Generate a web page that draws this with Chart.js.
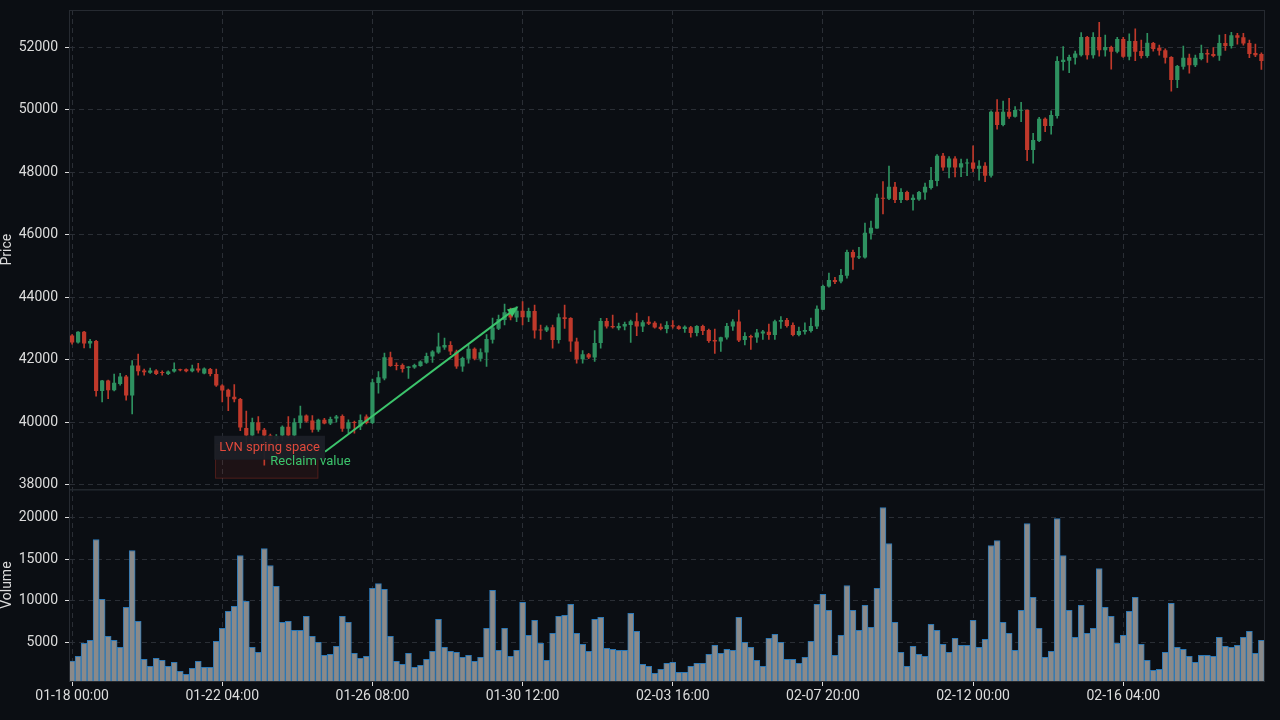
<!DOCTYPE html>
<html>
<head>
<meta charset="utf-8">
<script src="https://cdn.jsdelivr.net/npm/chart.js@4.4.1/dist/chart.umd.min.js"></script>
<style>
  html, body { margin: 0; padding: 0; background: #0b0e13; }
  #wrap { width: 1280px; height: 720px; }
</style>
</head>
<body>
<div id="wrap"><canvas id="chart" width="1280" height="720"></canvas></div>
<script>
/* ── data (4h candles) ── */
const tickLabels = ["01-18 00:00", "01-22 04:00", "01-26 08:00", "01-30 12:00",
                    "02-03 16:00", "02-07 20:00", "02-12 00:00", "02-16 04:00"];
const candlesPerTick = 25;
const priceTicks = [38000, 40000, 42000, 44000, 46000, 48000, 50000, 52000];
const volumeTicks = [5000, 10000, 15000, 20000];

const opens = [
  42770,42550,42890,42520,42600,41000,41330,41020,41220,41460,
  40850,41810,41650,41580,41650,41600,41540,41620,41680,41690,
  41630,41720,41560,41700,41540,41170,41040,40810,40740,39810,
  39570,40000,39760,39570,39450,39570,39850,39570,39970,40210,
  40050,39760,40080,39960,40120,40200,39785,40000,39860,40180,
  39970,41250,41400,42080,41830,41830,41730,41750,41800,41900,
  42100,42230,42390,42470,42260,41780,42030,42350,42030,42230,
  42640,42990,43270,43520,43350,43570,43350,43560,42960,42930,
  43040,42630,43360,43330,42580,42010,42170,42070,42530,43240,
  43080,43006,43060,43110,43230,43060,43210,43180,43050,42980,
  43100,43070,42985,43040,42850,43080,42950,42630,42580,42710,
  43060,43220,42630,42760,42710,42840,42890,42790,43210,43270,
  43110,42790,42890,42920,43060,43600,44340,44550,44500,44690,
  45450,45270,45270,46040,46200,47180,47150,47540,47110,47370,
  47110,47130,47350,47500,47720,48530,48150,48440,48150,48280,
  48310,48110,48210,47890,49940,49510,49940,49780,49970,49990,
  48710,49000,49710,49480,49800,51530,51570,51670,51750,52330,
  51750,52330,51910,52010,51860,52270,51700,52200,51880,51720,
  52140,51990,51910,51690,50950,51380,51670,51430,51630,51820,
  51790,51730,52140,52040,52390,52320,52140,51820,51790
];
const highs = [
  42800,42900,42910,42650,42620,41340,41350,41540,41560,41500,
  41970,42180,41700,41730,41680,41640,41640,41900,41700,41710,
  41830,41880,41740,41720,41700,41200,41060,41200,40760,40350,
  40130,40180,39800,39620,39600,39880,40180,40110,40510,40230,
  40210,40100,40120,40160,40220,40230,40070,40030,40230,40230,
  41380,41620,42210,42240,41900,41870,41780,41860,41960,42210,
  42290,42850,42690,42580,42310,42080,42470,42380,42350,42800,
  43330,43430,43780,43650,43700,43860,43650,43750,43110,43080,
  43110,43470,43750,43350,42690,42290,42200,42930,43320,43320,
  43430,43170,43200,43270,43490,43250,43380,43220,43150,43220,
  43250,43090,43080,43070,43090,43110,42980,42980,42720,43160,
  43280,43590,42870,42790,42970,42940,43140,43270,43380,43320,
  43180,43040,43180,43330,43720,44390,44770,44640,44890,45510,
  45510,45600,46370,46440,47300,47700,48200,47680,47480,47400,
  47280,47390,47650,48160,48570,48610,48500,48500,48420,48420,
  48850,48370,48310,49970,50330,50280,50370,50100,50240,50000,
  49250,49760,49740,49970,51700,52020,51750,51880,52470,52350,
  52470,52800,52390,52040,52320,52320,52430,52590,52230,52450,
  52160,52070,51950,51700,51420,52040,51780,51750,52070,51930,
  51990,52390,52420,52480,52450,52450,52230,52100,51820
];
const lows = [
  42500,42530,42380,42380,40830,40650,40750,41000,41180,40700,
  40260,41500,41500,41560,41520,41500,41520,41600,41640,41610,
  41610,41600,41540,41480,41140,40650,40370,40650,39730,39300,
  39400,39650,38620,39200,39300,39400,39500,39480,39810,40000,
  39680,39700,39940,39920,40000,39700,39650,39650,39760,39940,
  39950,40930,41350,41780,41670,41600,41400,41720,41780,41880,
  41910,42200,42330,42160,41720,41620,41890,41990,41950,41780,
  42530,42960,43110,43270,43220,43110,43220,42690,42650,42900,
  42370,42530,43000,42260,41890,41890,42030,41940,42370,43010,
  43010,42950,42950,42550,42770,42900,43120,43010,42950,42860,
  43010,42970,42870,42720,42760,42800,42550,42200,42260,42660,
  42940,42580,42470,42330,42550,42650,42650,42650,43000,43040,
  42760,42760,42820,42880,42990,43600,44320,44430,44460,44610,
  44890,45230,45250,45860,46200,46670,47120,47030,47030,47110,
  46790,47100,47130,47460,47560,48060,47820,47850,47860,47890,
  48020,47750,47700,47840,49380,49480,49720,49760,49620,48370,
  48290,48980,49300,49220,49730,51270,51190,51460,51720,51620,
  51650,51720,51720,51300,51820,51680,51600,51570,51650,51680,
  51880,51750,51490,50600,50710,51300,51170,51380,51600,51520,
  51690,51580,51900,51970,52100,52070,51670,51700,51290
];
const closes = [
  42550,42890,42520,42600,41000,41330,41020,41260,41460,40850,
  41810,41630,41600,41650,41540,41570,41620,41700,41660,41630,
  41720,41650,41720,41540,41170,41010,40810,40730,39830,39570,
  40000,39730,39570,39450,39560,39850,39570,40000,40210,40020,
  39760,40080,39960,40100,40180,39785,40000,39970,40070,39970,
  41280,41440,42080,41800,41800,41700,41780,41830,41940,42120,
  42260,42420,42470,42260,41780,42050,42350,42030,42240,42660,
  43030,43300,43520,43350,43570,43360,43560,42930,42930,43040,
  42630,43360,43300,42580,42010,42170,42070,42530,43240,43060,
  43040,43081,43145,43230,43060,43200,43150,43030,42980,43110,
  43060,42985,43050,42850,43080,42920,42600,42580,42720,43080,
  43220,42610,42760,42710,42870,42900,42790,43230,43270,43080,
  42790,42920,42950,43080,43630,44360,44550,44490,44710,45450,
  45270,45310,46060,46220,47180,47150,47540,47110,47370,47110,
  47180,47370,47540,47750,48530,48150,48440,48150,48290,48310,
  48110,48210,47890,49940,49510,49940,49780,49990,50000,48710,
  49030,49710,49480,49830,51560,51600,51690,51800,52330,51750,
  52330,51910,52010,51860,52270,51700,52200,51860,51720,52150,
  51950,51890,51670,50950,51400,51670,51430,51670,51820,51770,
  51720,52140,52040,52390,52310,52120,51790,51750,51560
];
const volumes = [
  2760,3320,4880,5240,17360,10160,5720,5240,4400,9200,
  16040,7520,2960,2120,3080,2840,2120,2600,1520,1160,
  1880,2720,2000,2000,5120,6680,8720,9320,15440,9920,
  4400,3800,16280,14240,11720,7400,7520,6440,6440,8120,
  5720,5000,3440,3560,4520,8120,7400,3680,3080,3320,
  11480,12080,11360,5720,2720,2360,3680,2000,2240,2960,
  3920,7760,4400,3920,3800,3200,3440,2720,3200,6680,
  11240,4040,6680,3320,4040,9800,5840,7640,4880,2840,
  6080,8120,8240,9560,6080,4760,3920,7760,8000,4280,
  4160,4040,4040,8480,6320,2360,2120,1280,1760,2480,
  2600,1400,1400,2120,2480,2480,3560,4640,3680,4160,
  4040,8000,5000,4400,2840,2120,5480,5960,5000,2960,
  2960,2480,3200,5120,9560,10760,8840,3440,5840,11840,
  8840,6440,9440,6800,11480,21200,16880,7400,3800,2120,
  4520,3560,3320,7160,6440,4760,3800,5480,4640,4640,
  7640,4400,5360,16640,17240,7400,6080,4040,8840,19280,
  10400,6680,3200,3920,19880,15440,8840,5600,9440,6080,
  6680,13880,9200,8120,4880,5840,8720,10400,4760,2840,
  1640,1760,3800,9680,4400,4160,3320,2600,3440,3440,
  3320,5600,4520,4400,4640,5600,6320,3680,5240
];

/* annotations, in data units (candle index, price) */
const lvnZone = { x0: 23.8, x1: 41.0, p0: 38190, p1: 39300 };
const lvnLabel = { text: "LVN spring space", x: 24.5, p: 39180 };
const reclaimLabel = { text: "Reclaim value", x: 33.0, p: 38730 };
const reclaimArrow = { x0: 42.1, p0: 39050, x1: 74.3, p1: 43700 };

/* ── colours ── */
const UP = '#2e9160';
const DOWN = '#c0392b';
const TXT = '#dcdcdc';
const GRID = '#2a2e35';
const FRAME = '#262a31';
const FONT = { family: 'Roboto', size: 14 };

const idx = opens.map((_, i) => i);
const candleColors = idx.map(i => closes[i] >= opens[i] ? UP : DOWN);
const tickIdx = tickLabels.map((_, k) => k * candlesPerTick);

/* ── frame + annotations ── */
const overlay = {
  id: 'overlay',
  beforeDatasetsDraw(chart) {
    const { ctx, scales: { x, y } } = chart;
    const l = x.getPixelForValue(lvnZone.x0), r = x.getPixelForValue(lvnZone.x1);
    const t = y.getPixelForValue(lvnZone.p1), b = y.getPixelForValue(lvnZone.p0);
    ctx.save();
    ctx.fillStyle = 'rgba(192,57,43,0.10)';
    ctx.strokeStyle = 'rgba(192,57,43,0.30)';
    ctx.lineWidth = 1;
    ctx.fillRect(l, t, r - l, b - t);
    ctx.strokeRect(l + 0.5, t + 0.5, r - l - 1, b - t - 1);
    ctx.restore();
  },
  afterDraw(chart) {
    const { ctx, chartArea: ca, scales: { x, y, yv } } = chart;
    ctx.save();
    // panel frames
    ctx.strokeStyle = FRAME;
    ctx.lineWidth = 1;
    ctx.strokeRect(ca.left - 0.5, y.top + 0.5, ca.right - ca.left, y.bottom - y.top);
    ctx.strokeRect(ca.left - 0.5, yv.top + 0.5, ca.right - ca.left, yv.bottom - yv.top);

    ctx.font = '13px Roboto';
    ctx.textBaseline = 'middle';
    ctx.textAlign = 'left';

    // arrow
    const ax0 = x.getPixelForValue(reclaimArrow.x0), ay0 = y.getPixelForValue(reclaimArrow.p0);
    const ax1 = x.getPixelForValue(reclaimArrow.x1), ay1 = y.getPixelForValue(reclaimArrow.p1);
    const ang = Math.atan2(ay1 - ay0, ax1 - ax0);
    ctx.strokeStyle = '#3cc46c';
    ctx.fillStyle = '#3cc46c';
    ctx.lineWidth = 2;
    ctx.beginPath();
    ctx.moveTo(ax0, ay0);
    ctx.lineTo(ax1 - 6 * Math.cos(ang), ay1 - 6 * Math.sin(ang));
    ctx.stroke();
    ctx.beginPath();
    ctx.moveTo(ax1, ay1);
    ctx.lineTo(ax1 - 11 * Math.cos(ang) + 4.5 * Math.sin(ang), ay1 - 11 * Math.sin(ang) - 4.5 * Math.cos(ang));
    ctx.lineTo(ax1 - 11 * Math.cos(ang) - 4.5 * Math.sin(ang), ay1 - 11 * Math.sin(ang) + 4.5 * Math.cos(ang));
    ctx.closePath();
    ctx.fill();

    // LVN label with box
    const lx = x.getPixelForValue(lvnLabel.x), ly = y.getPixelForValue(lvnLabel.p);
    const w = ctx.measureText(lvnLabel.text).width;
    ctx.fillStyle = 'rgba(28,32,39,0.95)';
    ctx.fillRect(lx - 5, ly - 12, w + 10, 24);
    ctx.fillStyle = '#e0493c';
    ctx.fillText(lvnLabel.text, lx, ly);

    // reclaim label
    ctx.fillStyle = '#3cc46c';
    ctx.fillText(reclaimLabel.text, x.getPixelForValue(reclaimLabel.x), y.getPixelForValue(reclaimLabel.p));
    ctx.restore();
  }
};

const tickOpts = { color: TXT, font: FONT, padding: 7, callback: v => String(v) };
const gridOpts = { color: GRID, tickColor: TXT, tickLength: 5, tickWidth: 1, offset: false };
const borderOpts = { display: false, dash: [5, 4] };
const fitY = s => { s.width = 70; s.paddingTop = 0; s.paddingBottom = 0; };

new Chart(document.getElementById('chart'), {
  type: 'bar',
  data: {
    datasets: [
      {
        label: 'wick',
        data: idx.map(i => ({ x: i, y: [lows[i], highs[i]] })),
        backgroundColor: candleColors,
        barThickness: 1,
        grouped: false,
        yAxisID: 'y',
        order: 2
      },
      {
        label: 'body',
        data: idx.map(i => ({ x: i, y: [opens[i], closes[i]] })),
        backgroundColor: candleColors,
        barPercentage: 0.7,
        categoryPercentage: 1,
        minBarLength: 1,
        grouped: false,
        yAxisID: 'y',
        order: 1
      },
      {
        label: 'Volume',
        data: idx.map(i => ({ x: i, y: volumes[i] })),
        backgroundColor: '#8a8a8a',
        borderColor: '#2b78b6',
        borderWidth: 1,
        barPercentage: 1,
        categoryPercentage: 1,
        grouped: false,
        yAxisID: 'yv',
        order: 3
      }
    ]
  },
  options: {
    responsive: false,
    animation: false,
    layout: { padding: { left: 0, top: 10, right: 15, bottom: 0 } },
    plugins: { legend: { display: false }, tooltip: { enabled: false } },
    scales: {
      x: {
        type: 'linear',
        min: -0.35,
        max: 198.6,
        offset: false,
        afterBuildTicks: s => { s.ticks = tickIdx.map(v => ({ value: v })); },
        ticks: {
          color: TXT, font: FONT, padding: 2, maxRotation: 0, autoSkip: false,
          callback: v => tickLabels[tickIdx.indexOf(v)]
        },
        grid: gridOpts,
        border: borderOpts,
        afterFit: s => { s.height = 39; s.paddingLeft = 0; s.paddingRight = 0; }
      },
      yv: {
        type: 'linear',
        position: 'left',
        stack: 'panes',
        stackWeight: 1,
        min: 370,
        max: 23385,
        afterBuildTicks: s => { s.ticks = volumeTicks.map(v => ({ value: v })); },
        ticks: tickOpts,
        grid: gridOpts,
        border: borderOpts,
        title: { display: true, text: 'Volume', color: TXT, font: { family: 'Roboto', size: 14, lineHeight: 1 }, padding: 0 },
        afterFit: fitY
      },
      y: {
        type: 'linear',
        position: 'left',
        stack: 'panes',
        stackWeight: 2.5,
        min: 37850,
        max: 53195,
        afterBuildTicks: s => { s.ticks = priceTicks.map(v => ({ value: v })); },
        ticks: tickOpts,
        grid: gridOpts,
        border: borderOpts,
        title: { display: true, text: 'Price', color: TXT, font: { family: 'Roboto', size: 14, lineHeight: 1 }, padding: 0 },
        afterFit: fitY
      }
    }
  },
  plugins: [overlay]
});
</script>
</body>
</html>
